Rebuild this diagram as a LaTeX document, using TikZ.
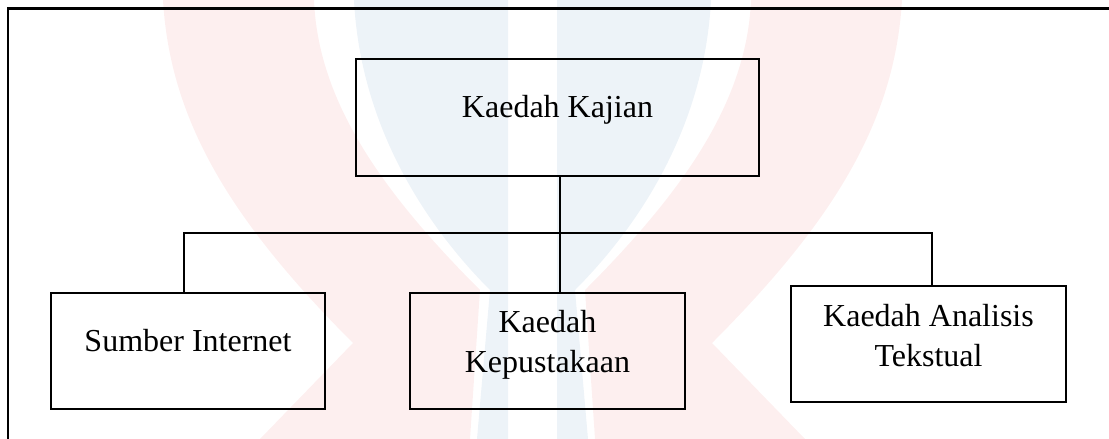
\documentclass[tikz,border=0pt]{standalone}
\usepackage{fontspec}
\setmainfont{Liberation Serif}
\definecolor{wmpink}{RGB}{253,239,239}
\definecolor{wmblue}{RGB}{237,243,248}
\tikzset{
  box/.style={draw, line width=1.1pt, inner sep=0pt},
  conn/.style={line width=0.7pt},
  lbl/.style={font=\fontsize{16}{20}\selectfont, align=center, inner sep=0pt},
}

\begin{document}
\begin{tikzpicture}[x=0.5pt, y=-0.5pt]
    \useasboundingbox (0,0) rectangle (1109,439);

    % faint watermark behind the chart
    \fill[wmpink] (163,0) -- (314,0) .. controls (318,100) and (380,190) .. (480,290) -- (470,439) -- (260,439) -- (353,343) .. controls (230,220) and (170,120) .. (163,0) -- cycle;
    \fill[wmpink] (902,0) -- (751,0) .. controls (747,100) and (685,190) .. (585,290) -- (595,439) -- (805,439) -- (712,343) .. controls (835,220) and (895,120) .. (902,0) -- cycle;
    \fill[wmblue] (354,0) -- (508,0) -- (508,439) -- (477,439) -- (490,290) .. controls (420,220) and (360,120) .. (354,0) -- cycle;
    \fill[wmblue] (711,0) -- (557,0) -- (557,439) -- (588,439) -- (575,290) .. controls (645,220) and (705,120) .. (711,0) -- cycle;

    % frame
    \draw[line width=1.2pt] (8,439) -- (8,8.5) -- (1109,8.5);

    % boxes
    \node[box, minimum width=201.5pt, minimum height=58.5pt] (kajian) at (557.5,117.5) {};
    \node[box, minimum width=137pt, minimum height=58pt] (internet) at (188,351) {};
    \node[box, minimum width=137.5pt, minimum height=58pt] (pustaka) at (547.5,351) {};
    \node[box, minimum width=137.5pt, minimum height=58pt] (analisis) at (928.5,344) {};

    \node[lbl, anchor=base] (kajianT) at (kajian.center) {Kaedah Kajian};
    \node[lbl, anchor=base] (internetT) at (internet.center) {Sumber Internet};
    \node[lbl, yshift=3pt] (pustakaT) at (pustaka.center) {Kaedah\\Kepustakaan};
    \node[lbl, yshift=4.3pt] (analisisT) at (analisis.center) {Kaedah Analisis\\Tekstual};

    % connectors
    \coordinate (hub) at (560,233);
    \coordinate (kiri) at (184,233);
    \coordinate (kanan) at (932,233);
    \draw[conn] (kajian.south -| hub) -- (hub |- pustaka.north);
    \draw[conn] (internet.north -| kiri) -- (kiri) -- (kanan) -- (analisis.north -| kanan);
\end{tikzpicture}
\end{document}
